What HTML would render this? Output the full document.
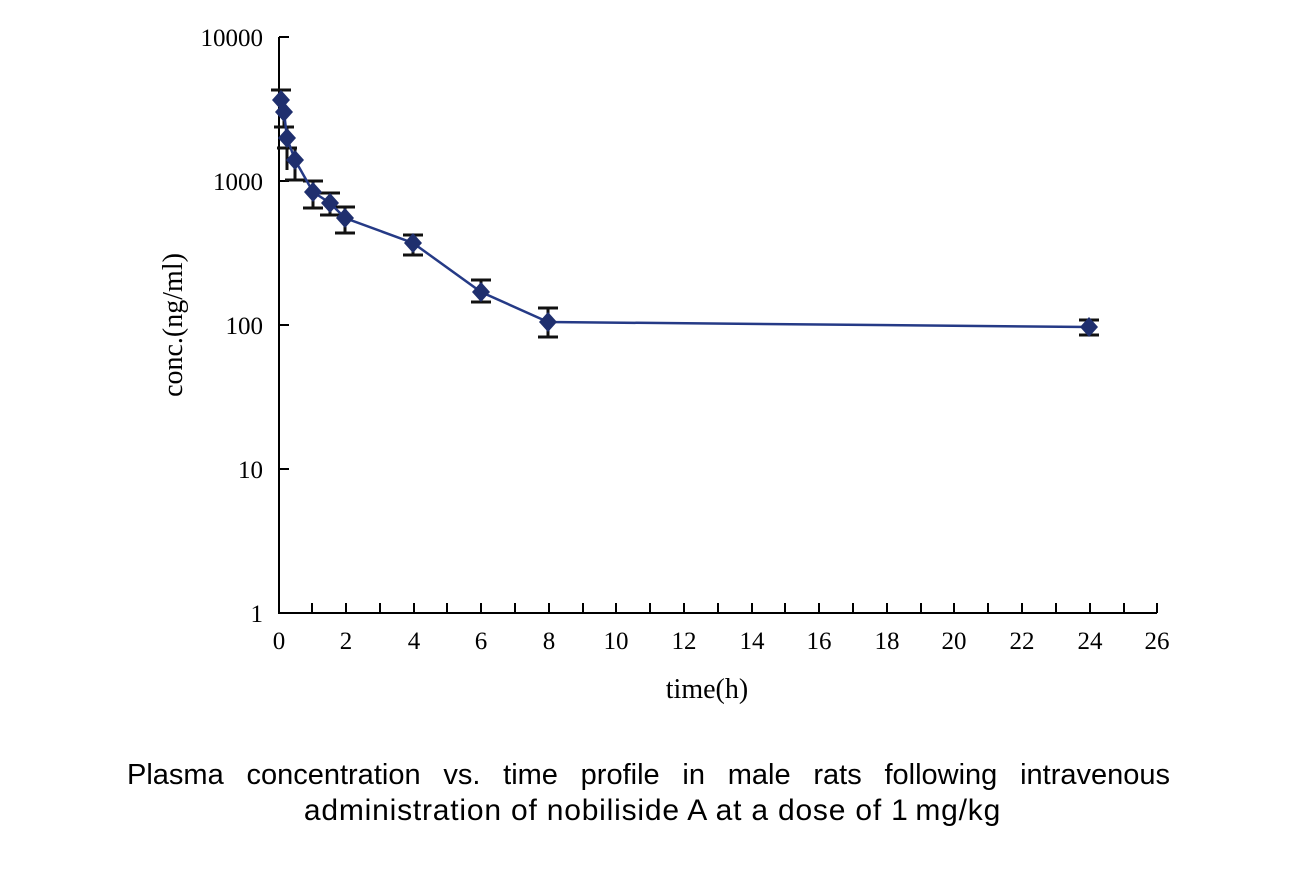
<!DOCTYPE html>
<html><head><meta charset="utf-8"><style>
body{margin:0;background:#fff;width:1305px;height:870px;overflow:hidden}
.l1{position:absolute;left:127px;top:757px;width:1043px;font:29px "Liberation Sans",sans-serif;color:#000;text-align:justify;text-align-last:justify;line-height:36px;white-space:nowrap}
.l2{position:absolute;left:0;top:793px;width:1305px;font:30px "Liberation Sans",sans-serif;letter-spacing:0.8px;color:#000;text-align:center;line-height:36px}
</style></head><body>
<svg width="1305" height="870" style="position:absolute;left:0;top:0" font-family="Liberation Serif, serif" font-size="25">
<g stroke="#000" stroke-width="2" fill="none">
<path d="M279 37V613H1157"/>
<path d="M279 37h10M279 181h10M279 325h10M279 469h10"/>
<path d="M312 613v-10M346 613v-10M380 613v-10M414 613v-10M447 613v-10M481 613v-10M515 613v-10M549 613v-10M583 613v-10M616 613v-10M650 613v-10M684 613v-10M718 613v-10M752 613v-10M785 613v-10M819 613v-10M853 613v-10M887 613v-10M921 613v-10M954 613v-10M988 613v-10M1022 613v-10M1056 613v-10M1090 613v-10M1124 613v-10M1157 613v-10"/>
</g>
<g text-anchor="end">
<text x="263" y="46">10000</text><text x="263" y="190">1000</text><text x="263" y="334">100</text><text x="263" y="478">10</text><text x="263" y="622">1</text>
</g>
<g text-anchor="middle">
<text x="279" y="649">0</text><text x="346" y="649">2</text><text x="414" y="649">4</text><text x="481" y="649">6</text><text x="549" y="649">8</text><text x="616" y="649">10</text><text x="684" y="649">12</text><text x="752" y="649">14</text><text x="819" y="649">16</text><text x="887" y="649">18</text><text x="954" y="649">20</text><text x="1022" y="649">22</text><text x="1090" y="649">24</text><text x="1157" y="649">26</text>
<text x="707" y="698" font-size="28">time(h)</text>
<text transform="translate(182 325) rotate(-90)" font-size="28">conc.(ng/ml)</text>
</g>
<g stroke="#111" stroke-width="3" fill="none">
<path d="M281 90V110M271 90h20M284 110V127M274 127h20M287 127V170M277 148h20M295 148V180M285 180h20"/>
<path d="M313 181V208M303 181h20M303 208h20M330 193V215M320 193h20M320 215h20M345 207V233M335 207h20M335 233h20"/>
<path d="M413 235V255M403 235h20M403 255h20M481 280V302M471 280h20M471 302h20M548 308V337M538 308h20M538 337h20M1089 320V335M1079 320h20M1079 335h20"/>
</g>
<polyline fill="none" stroke="#253a86" stroke-width="2.5" points="281,100 284,112 287,138 295,160 313,192 330,203 345,218 413,243 481,292 548,322 1089,327"/>
<g fill="#1f2f6e">
<path d="M281 90l9 10-9 10-9-10z"/><path d="M284 102l9 10-9 10-9-10z"/><path d="M287 128l9 10-9 10-9-10z"/><path d="M295 150l9 10-9 10-9-10z"/><path d="M313 182l9 10-9 10-9-10z"/><path d="M330 193l9 10-9 10-9-10z"/><path d="M345 208l9 10-9 10-9-10z"/><path d="M413 233l9 10-9 10-9-10z"/><path d="M481 282l9 10-9 10-9-10z"/><path d="M548 312l9 10-9 10-9-10z"/><path d="M1089 317l9 10-9 10-9-10z"/>
</g>
</svg>
<div class="l1">Plasma concentration vs. time profile in male rats following intravenous</div>
<div class="l2">administration of nobiliside A at a dose of 1&#8201;mg/kg</div>
</body></html>
